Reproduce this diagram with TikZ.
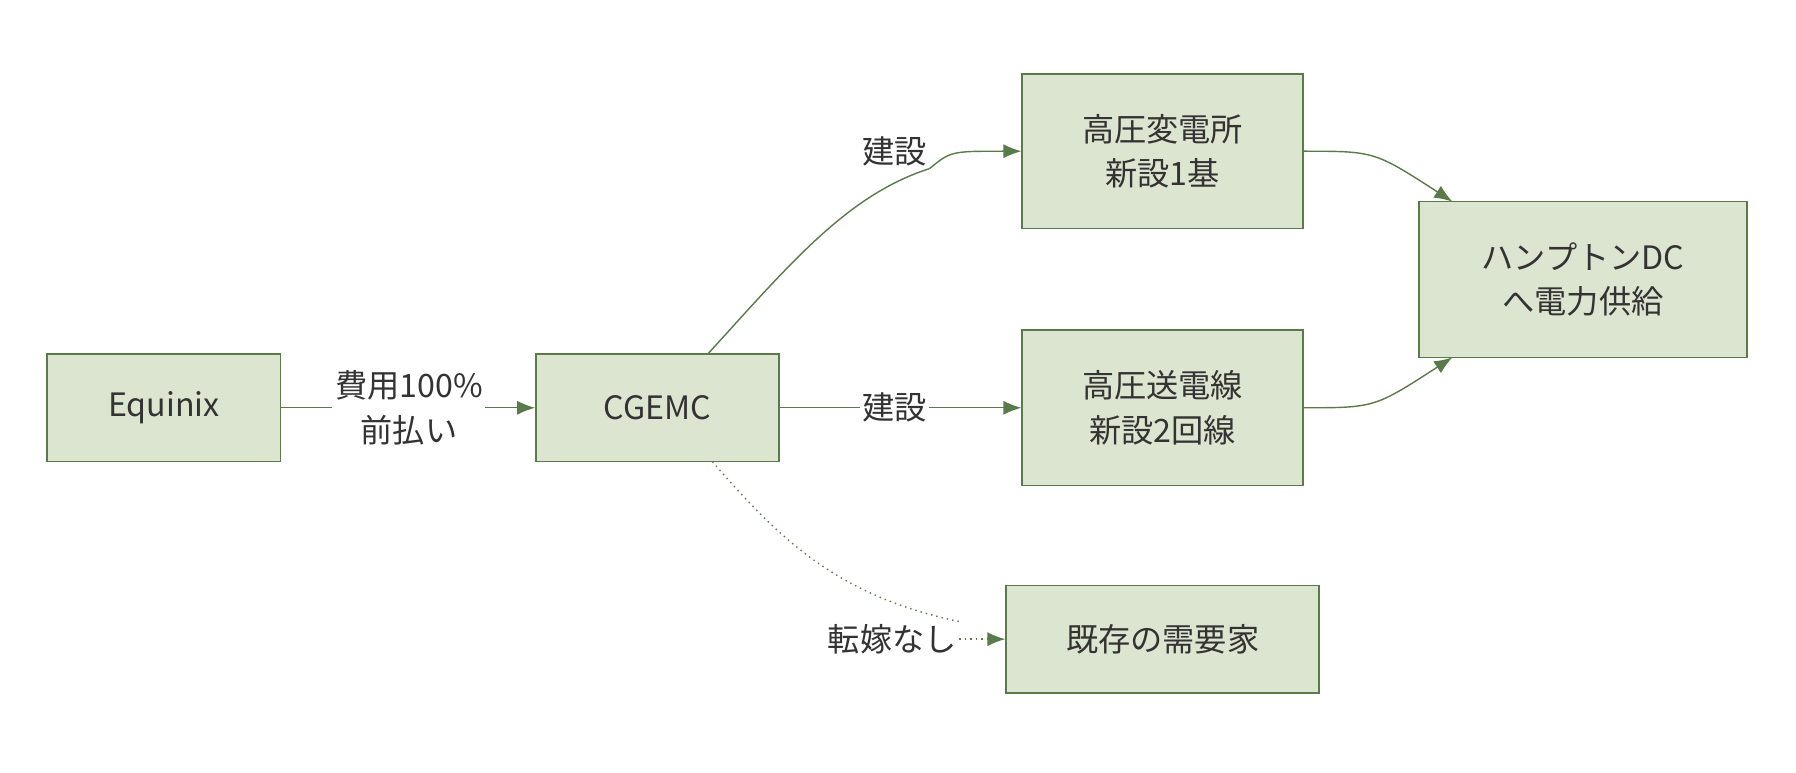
\documentclass[tikz,border=0pt]{standalone}
\usepackage{fontspec}
\setmainfont{Noto Sans CJK JP}
\usetikzlibrary{arrows.meta}
\definecolor{boxfill}{HTML}{DCE5CF}
\definecolor{boxline}{HTML}{5A7A4A}
\definecolor{txt}{HTML}{333333}

\begin{document}
\begin{tikzpicture}[
  x=0.02cm, y=-0.02cm,
  every node/.style={text=txt, font=\fontsize{16}{22}\selectfont, align=center},
  box/.style={draw=boxline, fill=boxfill, line width=0.8pt, inner sep=0pt},
  lbl/.style={fill=white, inner sep=1pt},
  every path/.style={draw=boxline, line width=0.7pt},
  arr/.style={-{Latex[length=9pt,width=7pt]}},
  ]
  \useasboundingbox[draw=none] (0,0) rectangle (1568,674);
  \node[box, minimum width=204*0.02cm, minimum height=94*0.02cm] (eq) at (143,356) {Equinix};
  \node[box, minimum width=212*0.02cm, minimum height=94*0.02cm] (cg) at (574,356) {CGEMC};
  \node[box, minimum width=245*0.02cm, minimum height=135*0.02cm] (sub) at (1015,132) {高圧変電所\\新設1基};
  \node[box, minimum width=245*0.02cm, minimum height=136*0.02cm] (line) at (1015,356) {高圧送電線\\新設2回線};
  \node[box, minimum width=273*0.02cm, minimum height=94*0.02cm] (old) at (1015,558) {既存の需要家};
  \node[box, minimum width=286*0.02cm, minimum height=136*0.02cm] (dc) at (1382,244) {ハンプトンDC\\へ電力供給};

  \node[lbl] (pay) at (357,356) {費用100\%\\前払い};
  \node[lbl] (b1) at (781,132) {建設};
  \node[lbl] (b2) at (781,356) {建設};
  \node[lbl] (nop) at (779,558) {転嫁なし};
  \coordinate (cgtop) at (618,309);
  \coordinate (cgbot) at (622,403);
  \coordinate (dctop) at (1268,176);
  \coordinate (dcbot) at (1268,312);

  \draw (eq) -- (pay);
  \draw[arr] (pay) -- (cg);
  \draw (cg) -- (b2);
  \draw[arr] (b2) -- (line);
  \draw (cgtop) .. controls (690,230) and (740,170) .. (b1.south east);
  \draw[arr] (b1.south east) .. controls (830,132) .. (sub.west);
  \draw[dotted] (cgbot) .. controls (680,470) and (730,520) .. (nop.north east);
  \draw[dotted, arr] (nop) -- (old);
  \draw[arr] (sub.east) .. controls (1200,132) .. (dctop);
  \draw[arr] (line.east) .. controls (1200,356) .. (dcbot);
\end{tikzpicture}
\end{document}
